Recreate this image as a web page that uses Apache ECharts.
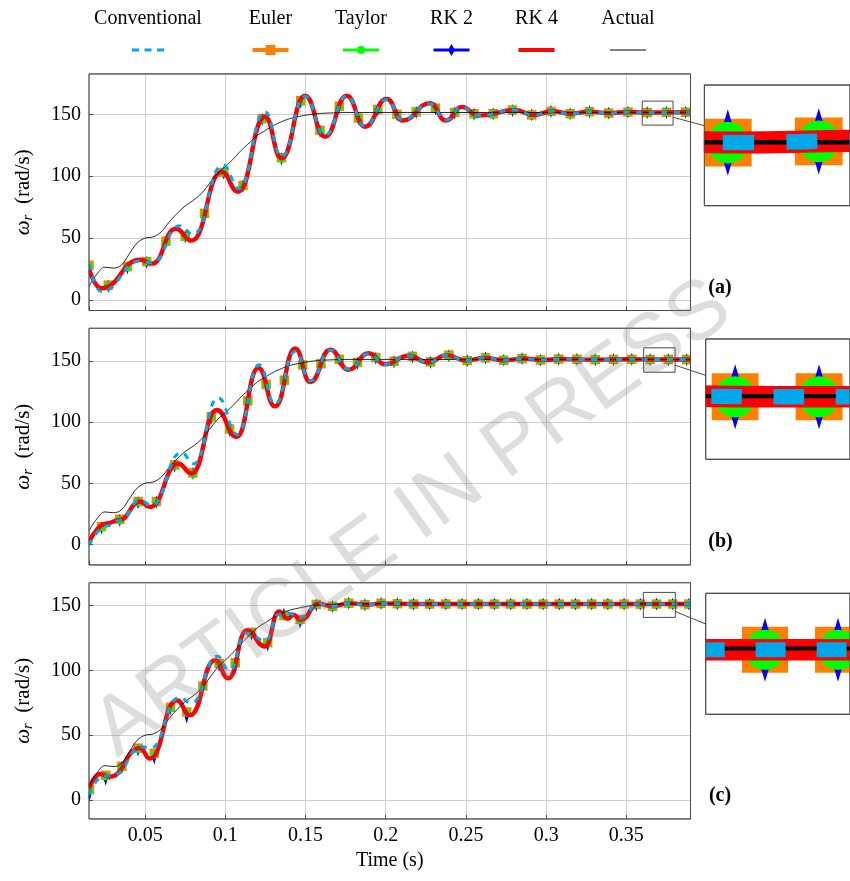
<!DOCTYPE html>
<html>
<head>
<meta charset="utf-8">
<script src="https://cdn.jsdelivr.net/npm/echarts@6/dist/echarts.min.js"></script>
<style>
html, body { margin: 0; padding: 0; background: #fff; }
#chart { width: 850px; height: 881px; }
</style>
</head>
<body>
<div id="chart"></div>
<script>
// ---- Rotor speed responses (rad/s) for three test cases ----

// Reference speed, shared by all three cases
const actualTime  = [0.015, 0.02, 0.025, 0.03, 0.035, 0.04, 0.045, 0.05, 0.055, 0.06, 0.065, 0.07, 0.075, 0.08, 0.085, 0.09, 0.095, 0.1, 0.105, 0.11, 0.115, 0.12, 0.125, 0.13, 0.135, 0.14, 0.145, 0.15, 0.155, 0.16, 0.17, 0.18, 0.2, 0.25, 0.3, 0.35, 0.395];
const actualSpeed = [11, 21, 26.5, 25.8, 28, 37, 46, 50, 51, 55, 63, 70, 76, 80.5, 86, 94, 102, 108, 114, 121, 127, 133, 137, 141, 144, 146.5, 148, 149.3, 150.2, 150.8, 151.3, 151.5, 151.5, 151.5, 151.5, 151.5, 151.5];

// Case (a): RK 4 and conventional estimates (turning points)
const rk4TimeA = [0.015, 0.0225, 0.047, 0.0545, 0.069, 0.079, 0.0977, 0.108, 0.1247, 0.135, 0.1497, 0.1621, 0.1757, 0.1871, 0.2006, 0.2105, 0.2276, 0.2375, 0.2474, 0.2577, 0.2806, 0.292, 0.3038, 0.315, 0.327, 0.339, 0.351, 0.363, 0.383, 0.395];
const rk4A     = [25, 9.5, 32.5, 29.5, 57.5, 48, 103.5, 87.5, 148, 114.5, 165, 132, 165, 140, 162.5, 145, 159, 145, 156, 149, 153.5, 149.5, 152.5, 150.5, 152.2, 151, 151.9, 151.45, 151.75, 151.7];
const convTimeA = [0.015, 0.0225, 0.047, 0.0545, 0.0715, 0.08, 0.0985, 0.1085, 0.1247, 0.135, 0.1497, 0.1621, 0.1757, 0.1871, 0.2006, 0.2105, 0.2276, 0.2375, 0.2474, 0.2577, 0.2806, 0.292, 0.3038, 0.315, 0.327, 0.339, 0.351, 0.363, 0.383, 0.395];
const convA     = [29, 7, 31.5, 30, 60, 53, 109, 90, 152, 116, 164.5, 133, 165, 140.5, 162, 145.5, 158.5, 145.5, 156, 149, 153.5, 149.5, 152.5, 150.5, 152.2, 151, 151.9, 151.45, 151.75, 151.7];
// Case (a): sampled estimates, one mark every 12 ms from 15 ms
const eulerA  = [28, 12, 27, 31, 47.5, 51.5, 70, 103, 92.5, 146.5, 115, 161, 137, 156.5, 147, 154, 150, 152, 155, 151.5, 150.5, 150.5, 153.5, 149.5, 152.4, 150.5, 152.2, 151, 151.9, 151.45, 151.65, 151.75];
const taylorA = [27, 11.5, 26.5, 31, 47, 51, 69.5, 103, 92, 146, 114.5, 160.5, 136.5, 156, 147, 154, 149.5, 152, 155, 151.5, 150, 150.5, 153.5, 149.5, 152.4, 150.5, 152.2, 151, 151.9, 151.45, 151.65, 151.75];
const rk2A    = [26, 11, 26, 30.5, 47, 51, 69, 102.5, 92, 146, 114, 160, 136.5, 156, 146.5, 153.5, 149.5, 151.5, 154.5, 151, 150, 150.5, 153, 149.5, 152.4, 150.5, 152.2, 151, 151.9, 151.45, 151.65, 151.75];

// Case (b)
const rk4TimeB = [0.015, 0.026, 0.034, 0.0468, 0.053, 0.0707, 0.079, 0.0946, 0.1071, 0.1206, 0.131, 0.1435, 0.1529, 0.1654, 0.1768, 0.1893, 0.1997, 0.2142, 0.2265, 0.238, 0.25, 0.262, 0.274, 0.286, 0.298, 0.31, 0.33, 0.35, 0.37, 0.395];
const rk4B     = [2, 17, 20, 35, 30.5, 66, 58, 110, 88, 144.5, 113, 160.5, 133, 159.5, 143, 156.5, 147.5, 154.5, 149, 155, 150.5, 152.8, 150.8, 152.2, 151, 151.8, 151.3, 151.6, 151.4, 151.4];
const convTimeB = [0.015, 0.026, 0.034, 0.0468, 0.054, 0.0725, 0.0805, 0.0955, 0.1075, 0.121, 0.131, 0.1435, 0.1529, 0.1654, 0.1768, 0.1893, 0.1997, 0.2142, 0.2265, 0.238, 0.25, 0.262, 0.274, 0.286, 0.298, 0.31, 0.33, 0.35, 0.37, 0.395];
const convB     = [-1, 15, 19.5, 36, 32, 75, 66, 120, 90, 147, 115, 158, 134, 159, 143.5, 156, 147.5, 154.5, 149, 155, 150.5, 152.8, 150.8, 152.2, 151, 151.8, 151.3, 151.6, 151.4, 151.4];
// marks every 11.4 ms from 22.8 ms
const eulerB  = [14.5, 20.5, 35, 35, 65, 58.5, 104.5, 94.5, 117.5, 131, 134.5, 147, 148, 151.5, 149, 153, 150, 154, 149.5, 155, 150.5, 152.8, 150.8, 152.2, 151, 151.8, 151.6, 151.3, 151.5, 151.6, 151.4, 151.4, 151.4];
const taylorB = [14, 20, 34.5, 34.5, 64.5, 58, 104, 94, 117, 130.5, 134, 146.5, 147.5, 151.5, 148.5, 153, 149.5, 154, 149, 154.5, 150.5, 152.8, 150.8, 152.2, 151, 151.8, 151.6, 151.3, 151.5, 151.6, 151.4, 151.4, 151.4];
const rk2B    = [13.5, 19.5, 34, 34.5, 64, 58, 103.5, 93.5, 116.5, 130, 133.5, 146.5, 147.5, 151, 148.5, 152.5, 149.5, 153.5, 149, 154.5, 150.5, 152.8, 150.8, 152.2, 151, 151.8, 151.6, 151.3, 151.5, 151.6, 151.4, 151.4, 151.4];

// Case (c)
const rk4TimeC = [0.015, 0.0219, 0.0281, 0.0468, 0.053, 0.0697, 0.078, 0.0936, 0.1019, 0.1133, 0.1247, 0.1335, 0.139, 0.1425, 0.147, 0.158, 0.167, 0.177, 0.188, 0.198, 0.22, 0.395];
const rk4C     = [9, 20, 18, 40, 32, 77, 65.5, 108, 94, 131, 118.5, 145.5, 140, 143, 139, 151.5, 149.5, 152, 150.8, 151.8, 151.3, 151.3];
const convTimeC = [0.015, 0.024, 0.03, 0.048, 0.0535, 0.071, 0.079, 0.095, 0.1025, 0.113, 0.125, 0.133, 0.14, 0.147, 0.158, 0.167, 0.177, 0.188, 0.198, 0.22, 0.395];
const convC     = [4, 18.5, 19, 41, 40, 79, 75, 111, 100, 129, 123, 143, 144, 141, 151.5, 149.5, 152, 150.8, 151.8, 151.3, 151.3];
// marks every 10.1 ms from 15.3 ms
const eulerC  = [8, 19, 26, 40, 36, 71.5, 68, 88, 105.5, 106, 129.5, 121.5, 142.5, 139.5, 151, 149.5, 152, 150.8, 151.8, 151.6, 151.3, 151.3, 151.3, 151.3, 151.3, 151.3, 151.3, 151.3, 151.3, 151.3, 151.3, 151.3, 151.3, 151.3, 151.3, 151.3, 151.3, 151.3];
const taylorC = [7, 18.5, 25.5, 39.5, 35, 71, 67.5, 87.5, 105, 105.5, 129, 121, 142.5, 139, 151, 149.5, 152, 150.8, 151.8, 151.6, 151.3, 151.3, 151.3, 151.3, 151.3, 151.3, 151.3, 151.3, 151.3, 151.3, 151.3, 151.3, 151.3, 151.3, 151.3, 151.3, 151.3, 151.3];
const rk2C    = [4, 16, 25, 38.5, 32.5, 70.5, 64, 88.5, 104, 102.5, 128, 119.5, 143.5, 137.5, 150.5, 149.5, 152, 150.8, 151.8, 151.6, 151.3, 151.3, 151.3, 151.3, 151.3, 151.3, 151.3, 151.3, 151.3, 151.3, 151.3, 151.3, 151.3, 151.3, 151.3, 151.3, 151.3, 151.3];

// ---- layout ----
const SERIF = "'Liberation Serif', 'DejaVu Serif', serif";
const X_MIN = 0.015, X_MAX = 0.39;
const GRID_LEFT = 89, GRID_W = 601.5, INSET_W = 155;
const FRAME = '#4a4a4a';
const COLORS = {
  'Conventional': '#00a8e8', 'Euler': '#ff8000', 'Taylor': '#00ff00',
  'RK 2': '#0000ff', 'RK 4': '#ff0000', 'Actual': '#000000'
};

const panels = [
  { tag: '(a)', tagPos: [720, 287.5], top: 74, height: 236.5, yMin: -8.5, yMax: 182.6,
    rk4T: rk4TimeA, rk4: rk4A, convT: convTimeA, conv: convA,
    markStart: 0.015, markStep: 0.012, euler: eulerA, taylor: taylorA, rk2: rk2A,
    zoom: { x0: 0.3599, y0: 141.3, y1: 160.7, left: 704.3, top: 85, height: 120.7 } },
  { tag: '(b)', tagPos: [720.5, 541.7], top: 328.3, height: 236.7, yMin: -17, yMax: 177,
    rk4T: rk4TimeB, rk4: rk4B, convT: convTimeB, conv: convB,
    markStart: 0.0228, markStep: 0.0114, euler: eulerB, taylor: taylorB, rk2: rk2B,
    zoom: { x0: 0.3608, y0: 141, y1: 161, left: 705.7, top: 339, height: 120.3 } },
  { tag: '(c)', tagPos: [720, 795.8], top: 582.7, height: 236.3, yMin: -14.7, yMax: 167.8,
    rk4T: rk4TimeC, rk4: rk4C, convT: convTimeC, conv: convC,
    markStart: 0.0153, markStep: 0.0101, euler: eulerC, taylor: taylorC, rk2: rk2C,
    zoom: { x0: 0.3606, y0: 141, y1: 160.3, left: 705.7, top: 593.3, height: 121 } }
];

const pair = (ts, vs) => ts.map((t, j) => [t, vs[j]]);
const markTimes = (start, step, n) => Array.from({ length: n }, (_, k) => +(start + step * k).toFixed(5));

// k scales every stroke and mark (1 in the main plots, magnification in the zoom boxes)
function panelSeries(axisIndex, p, k) {
  const marks = markTimes(p.markStart, p.markStep, p.euler.length);
  const common = { xAxisIndex: axisIndex, yAxisIndex: axisIndex, silent: true, animation: false };
  return [
    Object.assign({ name: 'Euler', type: 'scatter', z: 2, data: pair(marks, p.euler),
      symbol: 'rect', symbolSize: 9.5 * k, itemStyle: { color: COLORS['Euler'], opacity: 1 } }, common),
    Object.assign({ name: 'RK 2', type: 'scatter', z: 3, data: pair(marks, p.rk2),
      symbol: 'diamond', symbolSize: [3.9 * k, 13.2 * k], itemStyle: { color: COLORS['RK 2'], opacity: 1 } }, common),
    Object.assign({ name: 'Taylor', type: 'scatter', z: 4, data: pair(marks, p.taylor),
      symbol: 'circle', symbolSize: 8.3 * k, itemStyle: { color: COLORS['Taylor'], opacity: 1 } }, common),
    Object.assign({ name: 'RK 4', type: 'line', z: 5, data: pair(p.rk4T, p.rk4),
      smooth: 0.5, smoothMonotone: 'x', symbol: 'none', itemStyle: { color: COLORS['RK 4'] },
      lineStyle: { color: COLORS['RK 4'], width: 4.4 * k } }, common),
    Object.assign({ name: 'Actual', type: 'line', z: 6, data: pair(actualTime, actualSpeed),
      smooth: 0.4, symbol: 'none', itemStyle: { color: COLORS['Actual'] },
      lineStyle: { color: COLORS['Actual'], width: 0.85 * k } }, common),
    Object.assign({ name: 'Conventional', type: 'line', z: 7, data: pair(p.convT, p.conv),
      smooth: 0.5, smoothMonotone: 'x', symbol: 'none', itemStyle: { color: COLORS['Conventional'] },
      lineStyle: { color: COLORS['Conventional'], width: 3.1 * k, type: [6.2 * k, 6.4 * k] } }, common)
  ];
}

const grid = [], xAxis = [], yAxis = [], series = [];
const labelFont = { fontFamily: SERIF, fontSize: 20, color: '#000' };

panels.forEach((p, i) => {
  grid.push({ left: GRID_LEFT, top: p.top, width: GRID_W, height: p.height,
    show: true, borderColor: FRAME, borderWidth: 1, backgroundColor: 'transparent' });
  xAxis.push({ type: 'value', gridIndex: i, min: X_MIN, max: X_MAX, splitNumber: 7,
    axisLine: { show: false, onZero: false },
    axisTick: { show: true, inside: true, length: 4, lineStyle: { color: FRAME } },
    splitLine: { show: true, lineStyle: { color: '#cfcfcf', width: 1 } },
    axisLabel: Object.assign({ show: i === 2, margin: 7, showMinLabel: false, showMaxLabel: false }, labelFont),
    name: i === 2 ? 'Time (s)' : '', nameLocation: 'middle', nameGap: 32,
    nameTextStyle: labelFont });
  yAxis.push({ type: 'value', gridIndex: i, min: p.yMin, max: p.yMax, splitNumber: 4,
    axisLine: { show: false, onZero: false },
    axisTick: { show: true, inside: true, length: 4, lineStyle: { color: FRAME } },
    splitLine: { show: true, lineStyle: { color: '#cfcfcf', width: 1 } },
    axisLabel: Object.assign({ margin: 8, showMinLabel: false, showMaxLabel: false }, labelFont),
    name: '{w|ω}{s|r}  (rad/s)', nameLocation: 'middle', nameRotate: 90, nameGap: 53,
    nameTextStyle: Object.assign({}, labelFont, {
      fontSize: 21,
      rich: {
        w: { fontFamily: SERIF, fontSize: 21, fontStyle: 'italic', lineHeight: 25 },
        s: { fontFamily: SERIF, fontSize: 15, fontStyle: 'italic', verticalAlign: 'bottom' }
      }
    }) });
  series.push(...panelSeries(i, p, 1));
});

// zoom boxes: same data, magnified
panels.forEach((p, i) => {
  const z = p.zoom;
  const mainPxY = p.height / (p.yMax - p.yMin);
  const mag = (z.height / (z.y1 - z.y0)) / mainPxY;
  z.x1 = z.x0 + INSET_W / ((GRID_W / (X_MAX - X_MIN)) * mag);
  const ax = 3 + i;
  grid.push({ left: z.left, top: z.top, width: INSET_W, height: z.height,
    show: true, borderColor: FRAME, borderWidth: 1, backgroundColor: '#fff' });
  xAxis.push({ type: 'value', gridIndex: ax, min: z.x0, max: z.x1, show: false });
  yAxis.push({ type: 'value', gridIndex: ax, min: z.y0, max: z.y1, show: false });
  series.push(...panelSeries(ax, p, mag));
});

// legend: one component per entry so each icon sits under its own label
const legendSpec = [
  { name: 'Conventional', cx: 148, w: 32, h: 3, icon: 'path://M0,0H7V3H0Z M12.5,0H19.5V3H12.5Z M25,0H32V3H25Z' },
  { name: 'Euler', cx: 270.5, w: 36, h: 10, icon: 'path://M0,3H36V7H0Z M13,0H23V10H13Z' },
  { name: 'Taylor', cx: 361, w: 36, h: 8, icon: 'path://M0,2.5H36V5.5H0Z M14,4A4,4 0 1 1 22,4A4,4 0 1 1 14,4Z' },
  { name: 'RK 2', cx: 451.5, w: 36, h: 12, icon: 'path://M0,4.5H36V7.5H0Z M18,0L21.5,6L18,12L14.5,6Z' },
  { name: 'RK 4', cx: 536.5, w: 36, h: 4, icon: 'rect' },
  { name: 'Actual', cx: 628, w: 36, h: 1, icon: 'rect' }
];
const legend = legendSpec.map(l => ({
  data: [{ name: l.name, icon: l.icon }],
  left: l.cx - l.w / 2, top: 50 - l.h / 2, padding: 0, itemGap: 0,
  itemWidth: l.w, itemHeight: l.h, formatter: () => '',
  itemStyle: { borderWidth: 0 }, textStyle: { fontSize: 1 }
}));

const staticGraphics = [];
legendSpec.forEach(l => staticGraphics.push({
  type: 'text', silent: true, z: 10,
  style: { text: l.name, x: l.cx, y: 18.5, align: 'center', verticalAlign: 'middle',
    font: `20px ${SERIF}`, fill: '#000' }
}));
panels.forEach(p => staticGraphics.push({
  type: 'text', silent: true, z: 10,
  style: { text: p.tag, x: p.tagPos[0], y: p.tagPos[1], align: 'center', verticalAlign: 'middle',
    font: `bold 20px ${SERIF}`, fill: '#000' }
}));
staticGraphics.push({
  type: 'text', silent: true, z: 100, x: 413, y: 519, rotation: 35.5 * Math.PI / 180,
  style: { text: 'ARTICLE IN PRESS', x: 0, y: 0, align: 'center', verticalAlign: 'middle',
    font: "83px 'Liberation Sans', Arial, sans-serif", fill: 'rgba(128,128,128,0.27)' }
});

const chart = echarts.init(document.getElementById('chart'), null, { renderer: 'canvas' });
chart.setOption({
  animation: false,
  backgroundColor: '#fff',
  legend, grid, xAxis, yAxis, series,
  graphic: staticGraphics
});

// trims of strokes spilling past the plot frames, the frames on top,
// the window that is magnified and the leader line to its zoom box
const overlay = [];
const rectOf = (gi, x0, y0, x1, y1) => {
  const a = chart.convertToPixel({ gridIndex: gi }, [x0, y1]);
  const b = chart.convertToPixel({ gridIndex: gi }, [x1, y0]);
  return { x: a[0], y: a[1], width: b[0] - a[0], height: b[1] - a[1] };
};
panels.forEach((p, i) => {
  const z = p.zoom;
  const main = rectOf(i, X_MIN, p.yMin, X_MAX, p.yMax);
  const box = rectOf(3 + i, z.x0, z.y0, z.x1, z.y1);
  const spy = rectOf(i, z.x0, z.y0, z.x1, z.y1);
  const white = { fill: '#fff', stroke: null };
  overlay.push({ type: 'rect', silent: true, z: 40, style: white,
    shape: { x: main.x - 7, y: main.y - 6, width: 6.5, height: main.height + 12 } });
  overlay.push({ type: 'rect', silent: true, z: 40, style: white,
    shape: { x: main.x + main.width + 0.5, y: box.y - 14, width: box.x - main.x - main.width - 1, height: box.height + 28 } });
  overlay.push({ type: 'rect', silent: true, z: 40, style: white,
    shape: { x: main.x + main.width + 0.5, y: main.y - 4, width: box.x - main.x - main.width - 1, height: box.y - 14 - main.y + 4 } });
  overlay.push({ type: 'rect', silent: true, z: 60, shape: main,
    style: { fill: 'none', stroke: FRAME, lineWidth: 1 } });
  overlay.push({ type: 'rect', silent: true, z: 60, shape: box,
    style: { fill: 'none', stroke: FRAME, lineWidth: 1 } });
  overlay.push({ type: 'rect', silent: true, z: 65, shape: spy,
    style: { fill: 'none', stroke: FRAME, lineWidth: 1 } });
  const c1 = [spy.x + spy.width / 2, spy.y + spy.height / 2];
  const c2 = [box.x + box.width / 2, box.y + box.height / 2];
  const slope = (c2[1] - c1[1]) / (c2[0] - c1[0]);
  const xs = spy.x + spy.width, xe = box.x;
  overlay.push({ type: 'line', silent: true, z: 65,
    shape: { x1: xs, y1: c1[1] + slope * (xs - c1[0]), x2: xe, y2: c1[1] + slope * (xe - c1[0]) },
    style: { stroke: FRAME, lineWidth: 1 } });
});
chart.setOption({ graphic: staticGraphics.concat(overlay) });
</script>
</body>
</html>
